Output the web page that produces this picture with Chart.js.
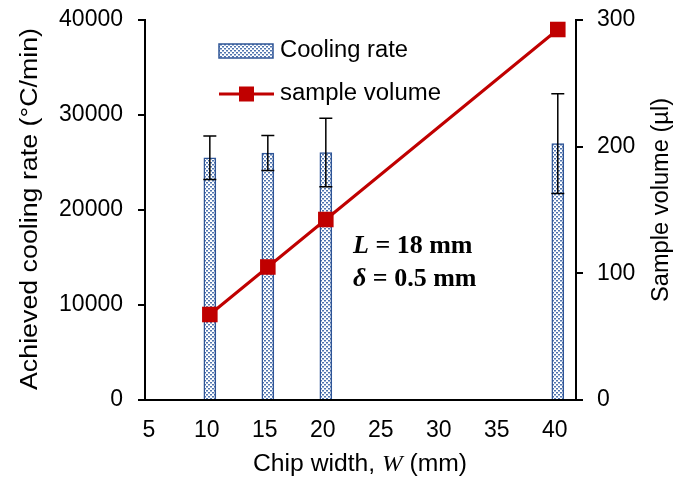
<!DOCTYPE html>
<html>
<head>
<meta charset="utf-8">
<script src="https://cdn.jsdelivr.net/npm/chart.js@4.4.1/dist/chart.umd.min.js"></script>
<style>
  html, body { margin: 0; padding: 0; background: #fff; }
  #wrap { width: 674px; height: 480px; }
</style>
</head>
<body>
<div id="wrap"><canvas id="coolingChart" width="674" height="480"></canvas></div>
<script>
// Chip width (mm) and the measured values
const chipWidths = [10, 15, 20, 40];
const coolingRate = [25500, 26000, 26050, 27000];   // °C/min
const coolingErr = [2300, 1850, 3600, 5250];        // +/- error
const sampleVolume = [67.5, 105, 142.5, 292.5];     // µl

// Axis ticks
const xTicks = [5, 10, 15, 20, 25, 30, 35, 40];
const rateTicks = [0, 10000, 20000, 30000, 40000];
const volumeTicks = [0, 100, 200, 300];

const SANS = '"Liberation Sans", Arial, sans-serif';
const SERIF = '"Liberation Serif", "Times New Roman", serif';
const BAR_BLUE = '#2f5597';
const LINE_RED = '#c00000';

// dotted fill like the Excel pattern
function makeDotPattern(ctx) {
    const tile = document.createElement('canvas');
    tile.width = 4;
    tile.height = 4;
    const t = tile.getContext('2d');
    t.fillStyle = '#ffffff';
    t.fillRect(0, 0, 4, 4);
    t.fillStyle = '#4f74ae';
    t.fillRect(0, 0, 2, 1.5);
    t.fillRect(2, 2, 2, 1.5);
    return ctx.createPattern(tile, 'repeat');
}

function fixedTicks(list) {
    return (scale) => { scale.ticks = list.map(v => ({ value: v })); };
}

// fixed box size, no extra padding for overflowing labels
function fixedBox(w, h) {
    return (s) => {
        if (w !== null) s.width = w;
        if (h !== null) s.height = h;
        s.paddingTop = 0;
        s.paddingBottom = 0;
        s.paddingLeft = 0;
        s.paddingRight = 0;
    };
}

// draws text squeezed/stretched to a given length
function fitText(ctx, text, cx, cy, len, rot) {
    ctx.save();
    ctx.translate(cx, cy);
    ctx.rotate(rot);
    const w = ctx.measureText(text).width;
    ctx.scale(len / w, 1);
    ctx.textAlign = 'center';
    ctx.textBaseline = 'middle';
    ctx.fillText(text, 0, 0);
    ctx.restore();
}

const errorBars = {
    id: 'errorBars',
    afterDatasetDraw(chart, args) {
        if (args.index !== 0) return;
        const { ctx, scales: { x, y } } = chart;
        ctx.save();
        ctx.strokeStyle = '#000';
        ctx.lineWidth = 1.5;
        chipWidths.forEach((w, i) => {
            const px = x.getPixelForValue(w);
            const top = y.getPixelForValue(coolingRate[i] + coolingErr[i]);
            const bot = y.getPixelForValue(coolingRate[i] - coolingErr[i]);
            ctx.beginPath();
            ctx.moveTo(px, top); ctx.lineTo(px, bot);
            ctx.moveTo(px - 6.5, top); ctx.lineTo(px + 6.5, top);
            ctx.moveTo(px - 6.5, bot); ctx.lineTo(px + 6.5, bot);
            ctx.stroke();
        });
        ctx.restore();
    }
};

const decorations = {
    id: 'decorations',
    afterDraw(chart) {
        const ctx = chart.ctx;
        ctx.save();

        // legend
        ctx.fillStyle = dotPattern;
        ctx.fillRect(219, 44, 54, 14);
        ctx.strokeStyle = BAR_BLUE;
        ctx.lineWidth = 1.5;
        ctx.strokeRect(219, 44, 54, 14);

        ctx.strokeStyle = LINE_RED;
        ctx.lineWidth = 3;
        ctx.beginPath();
        ctx.moveTo(219, 94); ctx.lineTo(274, 94);
        ctx.stroke();
        ctx.fillStyle = LINE_RED;
        ctx.fillRect(239, 86.5, 15, 15);

        ctx.fillStyle = '#000';
        ctx.font = '23px ' + SANS;
        fitText(ctx, 'Cooling rate', 280 + 64, 51, 128, 0);
        fitText(ctx, 'sample volume', 280 + 80.5, 94, 161, 0);

        // axis titles
        fitText(ctx, 'Achieved cooling rate (°C/min)', 31, 209, 362, -Math.PI / 2);
        fitText(ctx, 'Sample volume (µl)', 662, 200, 204, -Math.PI / 2);

        // x title with italic W, stretched to the reference length
        const partA = 'Chip width, ';
        const partB = 'W';
        const partC = ' (mm)';
        ctx.textBaseline = 'alphabetic';
        ctx.textAlign = 'left';
        ctx.font = '23px ' + SANS;
        const wa = ctx.measureText(partA).width;
        const wc = ctx.measureText(partC).width;
        ctx.font = 'italic 23px ' + SERIF;
        const wb = ctx.measureText(partB).width;
        const total = wa + wb + wc;
        const sx = 214 / total;
        ctx.save();
        ctx.translate(360 - 107, 471);
        ctx.scale(sx, 1);
        ctx.font = '23px ' + SANS;
        ctx.fillText(partA, 0, 0);
        ctx.font = 'italic 23px ' + SERIF;
        ctx.fillText(partB, wa, 0);
        ctx.font = '23px ' + SANS;
        ctx.fillText(partC, wa + wb, 0);
        ctx.restore();

        // annotation
        const drawMixed = (italicPart, rest, x0, y0) => {
            ctx.font = 'italic bold 26px ' + SERIF;
            ctx.fillText(italicPart, x0, y0);
            const w = ctx.measureText(italicPart).width;
            ctx.font = 'bold 26px ' + SERIF;
            ctx.fillText(rest, x0 + w, y0);
        };
        drawMixed('L', ' = 18 mm', 353, 253);
        drawMixed('δ', ' = 0.5 mm', 353, 286);

        ctx.restore();
    }
};

const canvas = document.getElementById('coolingChart');
const ctx = canvas.getContext('2d');
const dotPattern = makeDotPattern(ctx);

const tickFont = { family: SANS, size: 23 };

new Chart(ctx, {
    type: 'bar',
    data: {
        datasets: [{
            type: 'bar',
            label: 'Cooling rate',
            data: chipWidths.map((w, i) => ({ x: w, y: coolingRate[i] })),
            backgroundColor: dotPattern,
            borderColor: BAR_BLUE,
            borderWidth: 1.5,
            barThickness: 12,
            yAxisID: 'y',
            order: 2
        }, {
            type: 'line',
            label: 'sample volume',
            data: chipWidths.map((w, i) => ({ x: w, y: sampleVolume[i] })),
            borderColor: LINE_RED,
            backgroundColor: LINE_RED,
            borderWidth: 3,
            pointStyle: 'rect',
            pointRadius: 11,
            pointBorderWidth: 0,
            tension: 0,
            yAxisID: 'y2',
            order: 1
        }]
    },
    options: {
        responsive: false,
        animation: false,
        layout: { padding: { top: 20, left: 0, right: 0, bottom: 0 } },
        plugins: {
            legend: { display: false },
            tooltip: { enabled: false }
        },
        scales: {
            x: {
                type: 'linear',
                position: 'bottom',
                min: 4.41,
                max: 41.57,
                offset: false,
                afterBuildTicks: fixedTicks(xTicks),
                afterFit: fixedBox(null, 80),
                grid: { display: false },
                border: { display: true, color: '#000', width: 2 },
                ticks: {
                    color: '#000',
                    font: tickFont,
                    padding: 9,
                    labelOffset: -3,
                    maxRotation: 0,
                    autoSkip: false,
                    callback: (v) => String(v)
                }
            },
            y: {
                position: 'left',
                min: 0,
                max: 40000,
                afterBuildTicks: fixedTicks(rateTicks),
                afterFit: fixedBox(145, null),
                grid: { drawOnChartArea: false, drawTicks: true, tickLength: 7, color: '#000', lineWidth: 2 },
                border: { display: true, color: '#000', width: 2 },
                ticks: {
                    color: '#000',
                    font: tickFont,
                    padding: 15,
                    callback: (v) => String(v)
                }
            },
            y2: {
                position: 'right',
                min: 0,
                max: 300,
                afterBuildTicks: fixedTicks(volumeTicks),
                afterFit: fixedBox(98, null),
                grid: { drawOnChartArea: false, drawTicks: true, tickLength: 7, color: '#000', lineWidth: 2 },
                border: { display: true, color: '#000', width: 2 },
                ticks: {
                    color: '#000',
                    font: tickFont,
                    padding: 14,
                    callback: (v) => String(v)
                }
            }
        }
    },
    plugins: [errorBars, decorations]
});
</script>
</body>
</html>
